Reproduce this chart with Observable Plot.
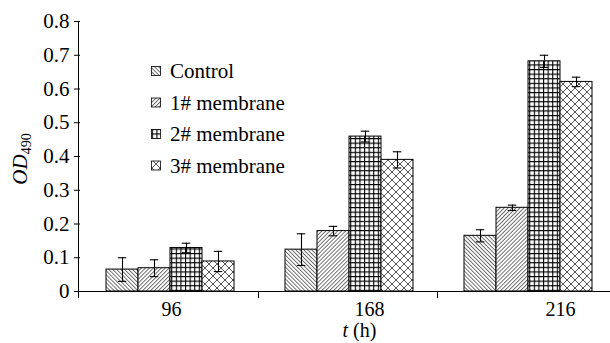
<!DOCTYPE html>
<html>
<head>
<meta charset="utf-8">
<script src="https://cdn.jsdelivr.net/npm/d3@7"></script>
<script src="https://cdn.jsdelivr.net/npm/@observablehq/plot@0.6"></script>
<style>
  html, body { margin: 0; padding: 0; background: #fff; }
  #chart { width: 610px; height: 343px; }
</style>
</head>
<body>
<div id="chart"></div>
<script>
// ---- data ----
const times = ["96", "168", "216"];
const series = ["Control", "1# membrane", "2# membrane", "3# membrane"];
const controlValues = [0.065, 0.124, 0.165];
const m1Values = [0.069, 0.179, 0.248];
const m2Values = [0.129, 0.459, 0.682];
const m3Values = [0.089, 0.390, 0.621];
const controlErr = [0.035, 0.047, 0.018];
const m1Err = [0.025, 0.014, 0.008];
const m2Err = [0.014, 0.016, 0.018];
const m3Err = [0.030, 0.024, 0.014];
const yTicks = [0, 0.1, 0.2, 0.3, 0.4, 0.5, 0.6, 0.7, 0.8];

// ---- layout / style (not data) ----
const patternIds = ["pat-control", "pat-m1", "pat-m2", "pat-m3"];
const timeLabelShift = [2, 21, 33];
const SERIF = "Liberation Serif, Times New Roman, serif";

const valueSets = [controlValues, m1Values, m2Values, m3Values];
const errSets = [controlErr, m1Err, m2Err, m3Err];
const rows = [];
times.forEach((t, ti) => {
  series.forEach((s, si) => {
    rows.push({time: t, series: s, si, value: valueSets[si][ti], err: errSets[si][ti]});
  });
});

const fmt = d => d === 0 ? "0" : d.toFixed(1);

const svg = Plot.plot({
  width: 610,
  height: 343,
  marginLeft: 79,
  marginRight: -7,
  marginTop: 21,
  marginBottom: 52,
  style: {fontFamily: SERIF, fontSize: "21px", background: "white", color: "black", overflow: "hidden"},
  fx: {domain: times, padding: 0, axis: null, label: null},
  x: {domain: series, paddingInner: 0, paddingOuter: 0.75, axis: null},
  y: {domain: [0, 0.8], label: null},
  color: {type: "identity"},
  marks: [
    Plot.barY(rows, {
      fx: "time", x: "series", y: "value",
      fill: d => `url(#${patternIds[d.si]})`,
      stroke: "black", strokeWidth: 1
    }),
    Plot.ruleX(rows, {
      fx: "time", x: "series",
      y1: d => d.value - d.err, y2: d => d.value + d.err,
      stroke: "black", strokeWidth: 1.1
    }),
    Plot.tickY(rows, {
      fx: "time", x: "series", y: d => d.value + d.err,
      insetLeft: 11.75, insetRight: 11.75, stroke: "black", strokeWidth: 1.1
    }),
    Plot.tickY(rows, {
      fx: "time", x: "series", y: d => d.value - d.err,
      insetLeft: 11.75, insetRight: 11.75, stroke: "black", strokeWidth: 1.1
    }),
    Plot.axisY({ticks: yTicks, tickFormat: fmt, tickSize: 6, tickPadding: 5, label: null, fontSize: 21, fontFamily: SERIF})
  ]
});

document.getElementById("chart").appendChild(svg);

const root = d3.select(svg);
const fx = svg.scale("fx");
const y = svg.scale("y");
const y0 = y.apply(0);
const yTop = y.apply(0.8);
const left = 79;

// patterns
const defs = root.insert("defs", ":first-child");
function linePattern(id, angle, spacing, sw) {
  const p = defs.append("pattern").attr("id", id)
    .attr("patternUnits", "userSpaceOnUse")
    .attr("width", spacing).attr("height", spacing)
    .attr("patternTransform", `rotate(${angle})`);
  p.append("rect").attr("width", spacing).attr("height", spacing).attr("fill", "white");
  p.append("line").attr("x1", 0).attr("y1", 0).attr("x2", 0).attr("y2", spacing)
    .attr("stroke", "black").attr("stroke-width", sw);
}
linePattern(patternIds[0], -45, 2.8, 1.1);
linePattern(patternIds[1], 45, 2.8, 1.1);
{
  const s = 4.6;
  const p = defs.append("pattern").attr("id", patternIds[2])
    .attr("patternUnits", "userSpaceOnUse").attr("width", s).attr("height", s);
  p.append("rect").attr("width", s).attr("height", s).attr("fill", "white");
  p.append("path").attr("d", `M0,0.5H${s}M0.5,0V${s}`).attr("stroke", "black").attr("stroke-width", 1.2);
}
{
  const s = 8;
  const p = defs.append("pattern").attr("id", patternIds[3])
    .attr("patternUnits", "userSpaceOnUse").attr("width", s).attr("height", s);
  p.append("rect").attr("width", s).attr("height", s).attr("fill", "white");
  p.append("path").attr("d", `M0,0L${s},${s}M${s},0L0,${s}`).attr("stroke", "#555").attr("stroke-width", 1);
}

const g = root.append("g").attr("stroke", "black").attr("fill", "none");
// x axis line
g.append("line").attr("x1", left).attr("x2", 610).attr("y1", y0 + 0.5).attr("y2", y0 + 0.5).attr("stroke-width", 1);
// y axis line
g.append("line").attr("x1", left - 0.5).attr("x2", left - 0.5).attr("y1", yTop).attr("y2", y0 + 7).attr("stroke-width", 1);
// group boundary ticks
times.slice(1).forEach(t => {
  const x = Math.round(fx.apply(t)) - 0.5;
  g.append("line").attr("x1", x).attr("x2", x).attr("y1", y0).attr("y2", y0 + 7).attr("stroke-width", 1);
});

// x category labels
const bw = fx.bandwidth;
times.forEach((t, i) => {
  root.append("text")
    .attr("x", fx.apply(t) + bw / 2 + timeLabelShift[i])
    .attr("y", y0 + 25)
    .attr("text-anchor", "middle")
    .attr("font-size", 20).attr("fill", "black")
    .text(t);
});

// x title
const xt = root.append("text")
  .attr("x", fx.apply("168") + bw / 2 + 11)
  .attr("y", y0 + 46)
  .attr("text-anchor", "middle")
  .attr("font-size", 20).attr("fill", "black");
xt.append("tspan").attr("font-style", "italic").text("t");
xt.append("tspan").text(" (h)");

// y title
const yt = root.append("text")
  .attr("transform", `translate(27,${(yTop + y0) / 2 + 3}) rotate(-90)`)
  .attr("text-anchor", "middle")
  .attr("font-size", 21).attr("fill", "black");
yt.append("tspan").attr("font-style", "italic").text("OD");
yt.append("tspan").attr("font-size", 14).attr("dy", 4).text("490");

// legend
const leg = root.append("g").attr("font-size", 21).attr("text-anchor", "start");
series.forEach((s, i) => {
  const cy = 71 + i * 31.5;
  leg.append("rect").attr("x", 151.5).attr("y", cy - 4.5).attr("width", 9).attr("height", 9)
    .attr("fill", `url(#${patternIds[i]})`).attr("stroke", "black").attr("stroke-width", 0.8);
  leg.append("text").attr("x", 170).attr("y", cy).attr("dy", "0.35em")
    .attr("text-anchor", "start").attr("fill", "black").text(s);
});

// force serif face on every text element
root.selectAll("text, tspan").style("font-family", SERIF);
</script>
</body>
</html>
